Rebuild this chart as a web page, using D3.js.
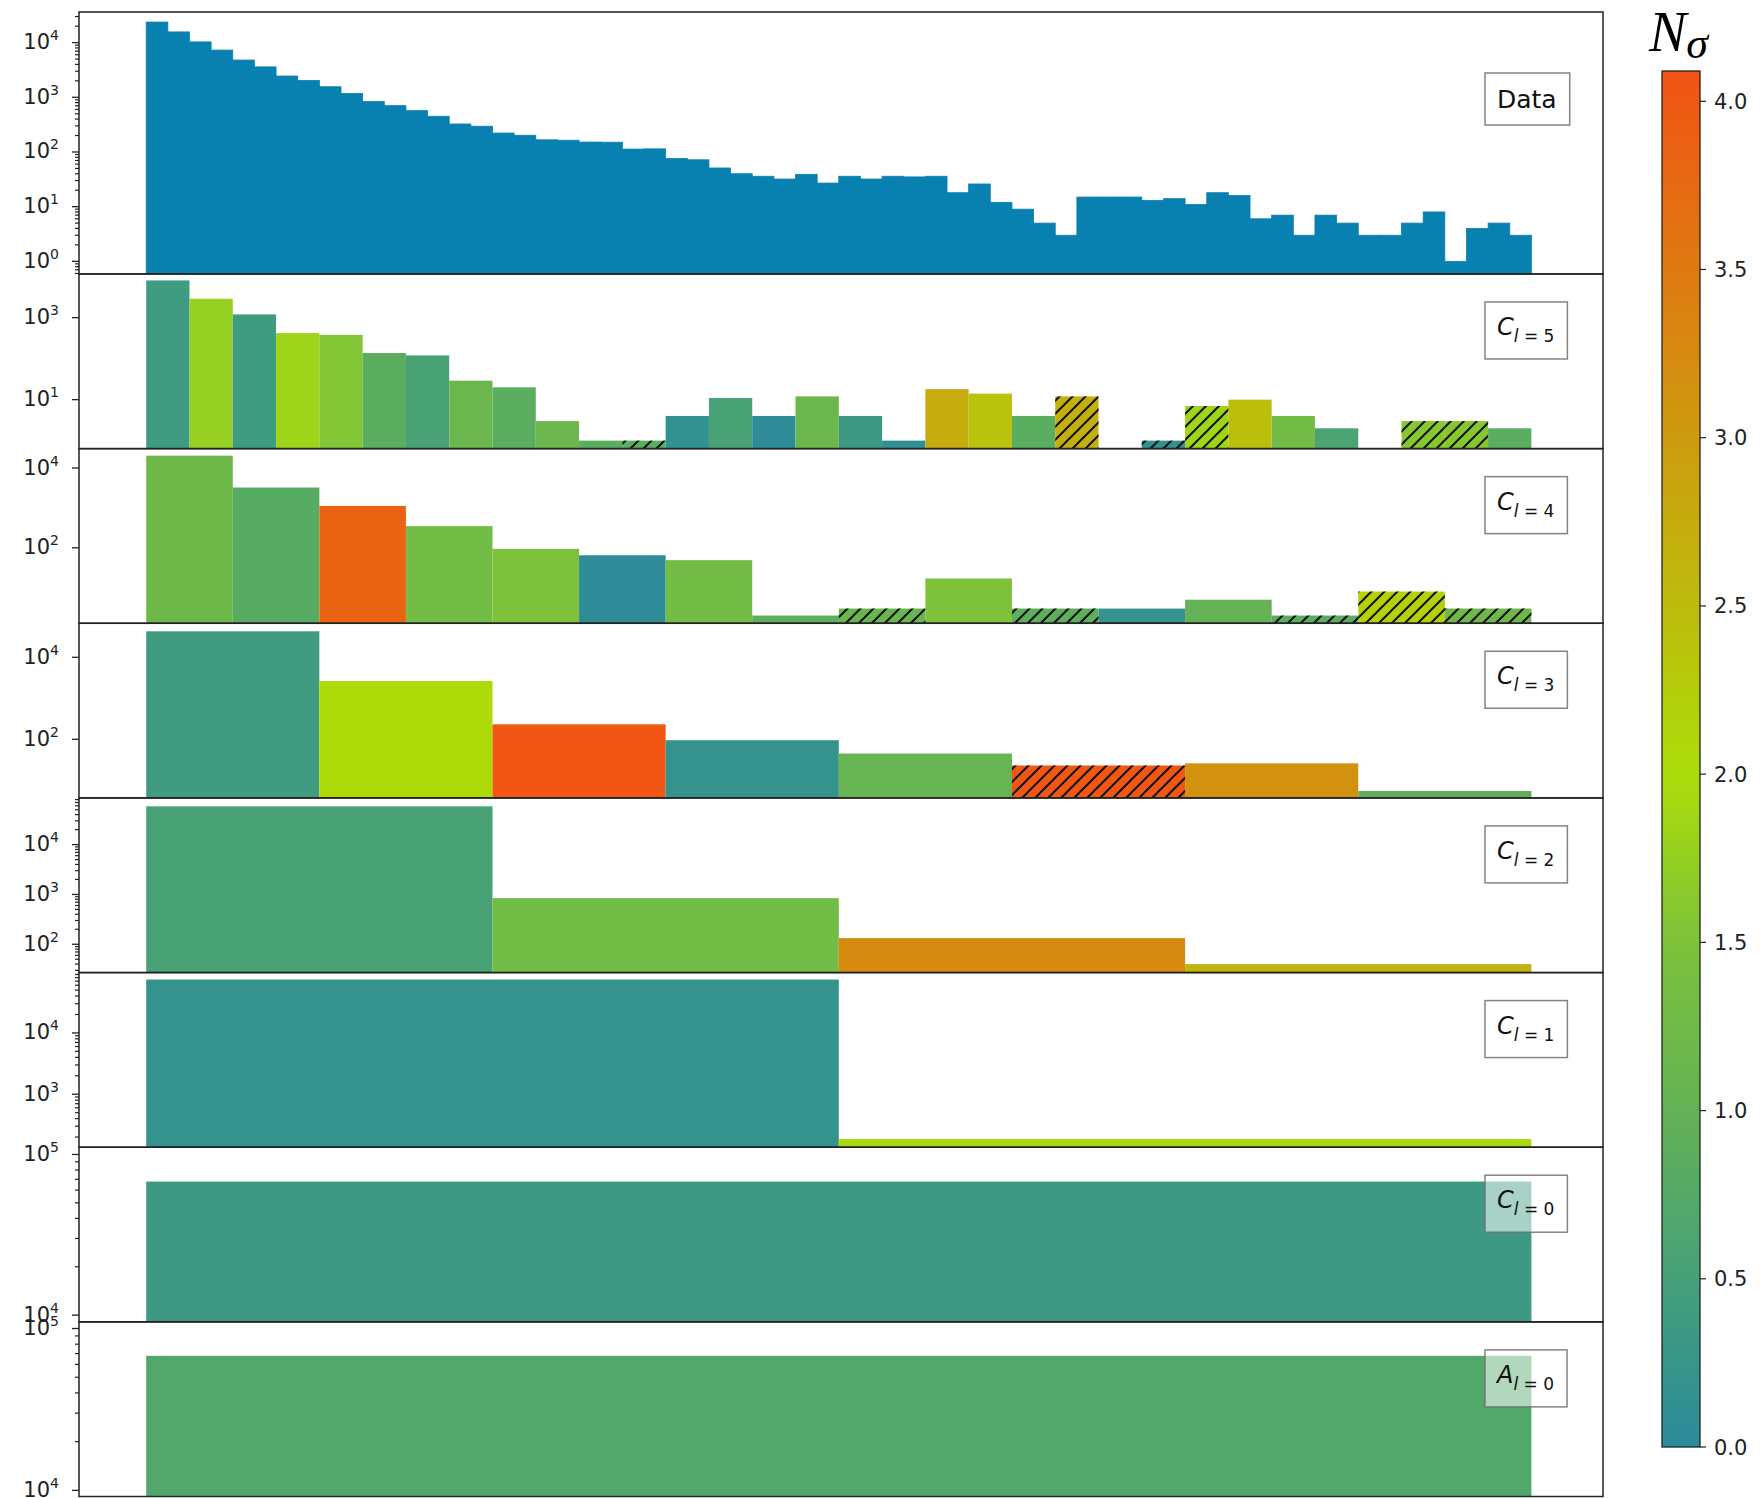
<!DOCTYPE html>
<html>
<head>
<meta charset="utf-8">
<script src="https://cdn.jsdelivr.net/npm/d3@7"></script>
<style>
  body { margin: 0; background: #fff; }
  svg { display: block; }
</style>
</head>
<body>
<div id="chart"></div>
<script>
// histogram counts, 64 bins
const dataCounts = [23800, 15700, 10300, 7300, 4800, 3600, 2450, 2030, 1560, 1180, 840, 703, 570, 450, 325, 296,
  222, 202, 167, 164, 152, 151, 113, 114, 76, 72, 51, 40, 36, 32, 39, 27,
  36, 32, 36, 35, 36, 18, 26, 12, 9, 5, 3, 15, 15, 15, 13, 14,
  11, 18, 16, 6, 7, 3, 7, 5, 3, 3, 5, 8, 1, 4, 5, 3];

// wavelet coefficients (negative = hatched), and their significance N_sigma
const c5Values = [8100, 2900, 1200, 420, 380, 137, 120, 29, 20, 3, 1, -1, 4, 11, 4, 12,
  4, 1, 18, 14, 4, -12, 0, -1, -7, 10, 4, 2, 0, -3, -3, 2];
const c5Nsigma = [0.4, 1.75, 0.4, 1.85, 1.55, 0.85, 0.55, 1.15, 0.85, 1.15, 0.85, 0.85, 0.15, 0.55, 0.05, 1.15,
  0.35, 0.1, 2.75, 2.4, 0.85, 2.7, 0, 0.15, 1.85, 2.45, 1.3, 0.6, 0, 1.6, 1.6, 0.85];
const c4Values = [20400, 3240, 1120, 350, 94, 65, 49, 2, -3, 17, -3, 3, 5, -2, -8, -3];
const c4Nsigma = [1.2, 0.8, 3.85, 1.3, 1.5, 0.05, 1.3, 0.9, 1.1, 1.5, 0.9, 0.2, 1.0, 0.85, 2.2, 1.2];
const c3Values = [43000, 2640, 232, 95, 45, -23, 26, 5.5];
const c3Nsigma = [0.4, 2.05, 4.05, 0.2, 1.05, 4.05, 3.15, 0.9];
const c2Values = [58700, 843, 133, 40];
const c2Nsigma = [0.55, 1.3, 3.25, 2.65];
const c1Values = [74300, 185];
const c1Nsigma = [0.2, 1.95];
const c0Values = [67800];
const c0Nsigma = [0.35];
const a0Values = [67800];
const a0Nsigma = [0.7];

const panelLabels = ['Data', '5', '4', '3', '2', '1', '0', 'A0'];
// y limits as log10 exponents
const yLimits = [[-0.231, 4.56], [-0.195, 4.066], [0.108, 4.486], [0.571, 4.829],
  [1.432, 4.937], [2.135, 4.985], [3.958, 5.045], [3.962, 5.041]];
const majorTicks = [[0, 1, 2, 3, 4], [1, 3], [2, 4], [2, 4], [2, 3, 4], [3, 4], [4, 5], [4, 5]];
const hasMinor = [true, false, false, false, true, true, true, true];

// colormap for N_sigma
const nsigStops = [0, 0.5, 1, 1.5, 2, 4.09];
const nsigColors = ['#2a8a9b', '#46a079', '#64b255', '#7dc23a', '#acdd0a', '#f25314'];
const cbTicks = [0, 0.5, 1, 1.5, 2, 2.5, 3, 3.5, 4];

const W = 1763, H = 1498;
const plotL = 79, plotR = 1603;
const top0 = 12, unitH = 174.65;
const dataColor = '#0880b0';

const color = d3.scaleLinear().domain(nsigStops).range(nsigColors).interpolate(d3.interpolateRgb);
const x = d3.scaleLinear().domain([0, 64]).range([146.2, 1531.4]);

const panels = [
  { values: dataCounts, nsig: null },
  { values: c5Values, nsig: c5Nsigma },
  { values: c4Values, nsig: c4Nsigma },
  { values: c3Values, nsig: c3Nsigma },
  { values: c2Values, nsig: c2Nsigma },
  { values: c1Values, nsig: c1Nsigma },
  { values: c0Values, nsig: c0Nsigma },
  { values: a0Values, nsig: a0Nsigma }
].map((p, i) => {
  const top = i === 0 ? top0 : top0 + unitH * (0.5 + i);
  const bottom = top0 + unitH * (i === 0 ? 1.5 : 1.5 + i);
  return { ...p, i, top, bottom, label: panelLabels[i], lim: yLimits[i], majors: majorTicks[i], minor: hasMinor[i] };
});

const svg = d3.select('#chart').append('svg').attr('width', W).attr('height', H);
const defs = svg.append('defs');

// hatch '//'
defs.append('pattern').attr('id', 'hatch')
  .attr('patternUnits', 'userSpaceOnUse').attr('width', 13).attr('height', 13)
  .append('path')
  .attr('d', 'M-2,2 L2,-2 M0,13 L13,0 M11,15 L15,11')
  .attr('stroke', '#111').attr('stroke-width', 2);

panels.forEach(p => {
  const y = d3.scaleLog().domain([10 ** p.lim[0], 10 ** p.lim[1]]).range([p.bottom, p.top]);
  const g = svg.append('g');

  defs.append('clipPath').attr('id', 'clip' + p.i)
    .append('rect').attr('x', plotL).attr('y', p.top).attr('width', plotR - plotL).attr('height', p.bottom - p.top);

  const n = p.values.length;
  const bw = 64 / n;
  const bars = p.values.map((v, k) => ({ v, k, s: p.nsig ? p.nsig[k] : null })).filter(d => d.v !== 0);
  const bg = g.append('g').attr('clip-path', `url(#clip${p.i})`);

  bg.selectAll('rect.bar').data(bars).enter().append('rect')
    .attr('class', 'bar')
    .attr('x', d => x(d.k * bw))
    .attr('width', d => x((d.k + 1) * bw) - x(d.k * bw))
    .attr('y', d => y(Math.abs(d.v)))
    .attr('height', d => p.bottom - y(Math.abs(d.v)))
    .attr('fill', d => p.nsig ? color(d.s) : dataColor)
    .attr('stroke', p.nsig ? 'none' : dataColor)
    .attr('stroke-width', 0.8);

  bg.selectAll('rect.hatch').data(bars.filter(d => d.v < 0)).enter().append('rect')
    .attr('class', 'hatch')
    .attr('x', d => x(d.k * bw))
    .attr('width', d => x((d.k + 1) * bw) - x(d.k * bw))
    .attr('y', d => y(Math.abs(d.v)))
    .attr('height', d => p.bottom - y(Math.abs(d.v)))
    .attr('fill', 'url(#hatch)');

  // minor ticks
  if (p.minor) {
    const minors = [];
    for (let e = Math.floor(p.lim[0]); e <= Math.ceil(p.lim[1]); e++) {
      for (let m = 2; m <= 9; m++) {
        const v = m * 10 ** e;
        if (Math.log10(v) >= p.lim[0] && Math.log10(v) <= p.lim[1]) minors.push(v);
      }
    }
    g.selectAll('line.minor').data(minors).enter().append('line')
      .attr('x1', plotL - 4).attr('x2', plotL)
      .attr('y1', d => y(d)).attr('y2', d => y(d))
      .attr('stroke', '#222').attr('stroke-width', 1.2);
  }
  // major ticks + labels
  g.selectAll('line.major').data(p.majors).enter().append('line')
    .attr('x1', plotL - 7).attr('x2', plotL)
    .attr('y1', d => y(10 ** d)).attr('y2', d => y(10 ** d))
    .attr('stroke', '#222').attr('stroke-width', 1.3);
  const lbl = g.selectAll('text.tick').data(p.majors).enter().append('text')
    .attr('x', 59).attr('y', d => y(10 ** d) + 6.5)
    .attr('text-anchor', 'end')
    .style('font-family', 'DejaVu Sans, sans-serif').style('font-size', '21px').attr('fill', '#222');
  lbl.append('tspan').text('10');
  lbl.append('tspan').attr('dy', -9).style('font-size', '14px').text(d => d);

  // frame
  g.append('rect').attr('x', plotL).attr('y', p.top)
    .attr('width', plotR - plotL).attr('height', p.bottom - p.top)
    .attr('fill', 'none').attr('stroke', '#222').attr('stroke-width', 1.5);

  // label box
  const lg = g.append('g');
  const boxTop = p.i === 0 ? 73 : p.top + 28;
  const boxH = p.i === 0 ? 52 : 57;
  const t = lg.append('text')
    .attr('x', 1497).attr('y', boxTop + (p.i === 0 ? 35 : 33))
    .style('font-family', 'DejaVu Sans, sans-serif').style('font-size', p.i === 0 ? '25px' : '24px').attr('fill', '#111');
  if (p.i === 0) {
    t.text('Data');
  } else {
    const isA = p.label === 'A0';
    t.append('tspan').style('font-style', 'italic').text(isA ? 'A' : 'C');
    t.append('tspan').attr('dy', 7).style('font-size', '17px').style('font-style', 'italic').text('l');
    t.append('tspan').style('font-size', '17px').text(' = ' + (isA ? '0' : p.label));
  }
  const bb = t.node().getBBox();
  lg.insert('rect', 'text')
    .attr('x', 1485).attr('y', boxTop)
    .attr('width', bb.x + bb.width - 1485 + 13).attr('height', boxH)
    .attr('fill', 'rgba(255,255,255,0.55)').attr('stroke', 'rgba(110,110,110,0.85)').attr('stroke-width', 1.5);
});

// colorbar
const cbX = 1662, cbW = 38, cbTop = 71, cbBot = 1447;
const cb = d3.scaleLinear().domain([0, 4.09]).range([cbBot, cbTop]);
const grad = defs.append('linearGradient').attr('id', 'cbgrad')
  .attr('x1', 0).attr('x2', 0).attr('y1', 1).attr('y2', 0);
d3.range(0, 1.0001, 0.02).forEach(f => {
  grad.append('stop').attr('offset', f).attr('stop-color', color(f * 4.09));
});
svg.append('rect').attr('x', cbX).attr('y', cbTop).attr('width', cbW).attr('height', cbBot - cbTop)
  .attr('fill', 'url(#cbgrad)').attr('stroke', '#222').attr('stroke-width', 1.3);
svg.selectAll('line.cbt').data(cbTicks).enter().append('line')
  .attr('x1', cbX + cbW).attr('x2', cbX + cbW + 6)
  .attr('y1', d => cb(d)).attr('y2', d => cb(d))
  .attr('stroke', '#222').attr('stroke-width', 1.2);
svg.selectAll('text.cbl').data(cbTicks).enter().append('text')
  .attr('x', cbX + cbW + 14).attr('y', d => cb(d) + 7.5)
  .style('font-family', 'DejaVu Sans, sans-serif').style('font-size', '21px').attr('fill', '#222')
  .text(d => d3.format('.1f')(d));

// colorbar title
const title = svg.append('text').attr('x', 1649).attr('y', 51)
  .style('font-family', 'Liberation Serif, serif').style('font-style', 'italic')
  .style('font-size', '56px').attr('fill', '#000');
title.append('tspan').text('N');
title.append('tspan').attr('dy', 7).style('font-size', '44px').text('σ');
</script>
</body>
</html>
